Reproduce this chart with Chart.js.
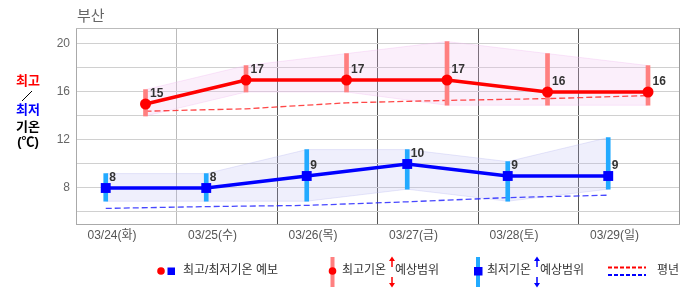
<!DOCTYPE html>
<html>
<head>
<meta charset="utf-8">
<script src="https://cdn.jsdelivr.net/npm/chart.js@4"></script>
<style>
  body { margin: 0; background: #fff; }
  canvas { display: block; }
</style>
</head>
<body>
<canvas id="myChart" width="686" height="295"></canvas>
<script>
// 부산 중기 기온 예보
var dates = ["03/24(화)", "03/25(수)", "03/26(목)", "03/27(금)", "03/28(토)", "03/29(일)"];
var highTemps = [15, 17, 17, 17, 16, 16];
var lowTemps = [8, 8, 9, 10, 9, 9];
var highRangeMin = [14, 16, 16, 14.9, 14.9, 14.9];
var highRangeMax = [16.2, 18.2, 19.2, 20.2, 19.2, 18.2];
var lowRangeMin = [6.9, 6.9, 6.9, 7.9, 6.9, 7.9];
var lowRangeMax = [9.2, 9.2, 11.2, 11.2, 10.2, 12.2];
var normalHigh = [14.4, 14.6, 15.1, 15.3, 15.45, 15.7];
var normalLow = [6.3, 6.45, 6.55, 6.85, 7.2, 7.4];
var yTicks = [6, 8, 10, 12, 14, 16, 18, 20];
var yLabels = [8, 12, 16, 20];

// hour of the day where the min / max temperature sits
var LOW_HOUR = 7.1;
var HIGH_HOUR = 16.6;

var FONT = "'Liberation Sans', 'Noto Sans CJK KR', sans-serif";
Chart.defaults.font.family = FONT;

function points(values, hour) {
  return values.map(function (v, i) { return { x: i + hour / 24, y: v }; });
}
function ranges(mins, maxs, hour) {
  return mins.map(function (v, i) { return { x: i + hour / 24, y: [v, maxs[i]] }; });
}

var extras = {
  id: "extras",
  afterDraw: function (chart) {
    var ctx = chart.ctx;
    var area = chart.chartArea;
    ctx.save();

    // frame top
    ctx.strokeStyle = "#bbb";
    ctx.lineWidth = 1;
    ctx.beginPath();
    ctx.moveTo(area.left, area.top + 0.5);
    ctx.lineTo(area.right, area.top + 0.5);
    ctx.stroke();

    // title
    ctx.fillStyle = "#666";
    ctx.font = "15px " + FONT;
    ctx.textBaseline = "middle";
    ctx.textAlign = "left";
    ctx.fillText("부산", 77, 17);

    // y axis title
    ctx.font = "bold 13px " + FONT;
    ctx.textAlign = "center";
    ctx.fillStyle = "#f00";
    ctx.fillText("최고", 28, 81);
    ctx.strokeStyle = "#000";
    ctx.beginPath();
    ctx.moveTo(22, 101);
    ctx.lineTo(32, 91);
    ctx.stroke();
    ctx.fillStyle = "#00f";
    ctx.fillText("최저", 28, 110);
    ctx.fillStyle = "#000";
    ctx.fillText("기온", 28, 127.5);
    ctx.fillText("(℃)", 28, 142);

    // legend
    var ly = 271;
    ctx.font = "12px " + FONT;
    ctx.textAlign = "left";
    ctx.fillStyle = "#f00";
    ctx.beginPath(); ctx.arc(161, ly, 3.8, 0, Math.PI * 2); ctx.fill();
    ctx.fillStyle = "#00f";
    ctx.fillRect(167.5, ly - 3.5, 7.5, 7.5);
    ctx.fillStyle = "#333";
    ctx.fillText("최고/최저기온 예보", 183, ly);

    ctx.fillStyle = "#ff8080";
    ctx.fillRect(330.5, 257, 4, 30);
    ctx.fillStyle = "#f00";
    ctx.beginPath(); ctx.arc(332.5, ly, 3.8, 0, Math.PI * 2); ctx.fill();
    ctx.fillStyle = "#333";
    ctx.fillText("최고기온", 342, ly);
    arrows(ctx, 392, "#f00");
    ctx.fillStyle = "#333";
    ctx.fillText("예상범위", 395, ly);

    ctx.fillStyle = "#22aaff";
    ctx.fillRect(476, 257, 4, 30);
    ctx.fillStyle = "#00f";
    ctx.fillRect(474, ly - 4, 8.5, 8.5);
    ctx.fillStyle = "#333";
    ctx.fillText("최저기온", 487, ly);
    arrows(ctx, 537, "#00f");
    ctx.fillStyle = "#333";
    ctx.fillText("예상범위", 540, ly);

    ctx.lineWidth = 2;
    ctx.setLineDash([4, 2]);
    ctx.strokeStyle = "#f00";
    ctx.beginPath(); ctx.moveTo(608, 267.5); ctx.lineTo(646, 267.5); ctx.stroke();
    ctx.strokeStyle = "#00f";
    ctx.beginPath(); ctx.moveTo(608, 275); ctx.lineTo(646, 275); ctx.stroke();
    ctx.setLineDash([]);
    ctx.fillStyle = "#333";
    ctx.fillText("평년", 657, ly);
    ctx.restore();
  },
  afterDatasetsDraw: function (chart) {
    var ctx = chart.ctx;
    ctx.save();
    ctx.font = "bold 12px " + FONT;
    ctx.fillStyle = "#333";
    ctx.textAlign = "left";
    ctx.textBaseline = "middle";
    chart.getDatasetMeta(0).data.forEach(function (el, i) {
      ctx.fillText(highTemps[i], el.x + 4.5, el.y - 10);
    });
    chart.getDatasetMeta(1).data.forEach(function (el, i) {
      ctx.fillText(lowTemps[i], el.x + 3.5, el.y - 10);
    });
    ctx.restore();
  }
};

function arrows(ctx, x, color) {
  ctx.save();
  ctx.strokeStyle = color;
  ctx.fillStyle = color;
  ctx.lineWidth = 1.5;
  ctx.beginPath();
  ctx.moveTo(x, 267); ctx.lineTo(x, 260);
  ctx.moveTo(x, 277); ctx.lineTo(x, 284);
  ctx.stroke();
  ctx.beginPath();
  ctx.moveTo(x - 3, 261); ctx.lineTo(x, 256.5); ctx.lineTo(x + 3, 261); ctx.closePath();
  ctx.moveTo(x - 3, 283); ctx.lineTo(x, 287.5); ctx.lineTo(x + 3, 283); ctx.closePath();
  ctx.fill();
  ctx.restore();
}

var ctx = document.getElementById("myChart").getContext("2d");
var myChart = new Chart(ctx, {
  type: "line",
  data: {
    datasets: [
      {
        // 0 최고기온
        data: points(highTemps, HIGH_HOUR),
        borderColor: "#f00",
        borderWidth: 3.5,
        pointRadius: 5.5,
        pointBackgroundColor: "#f00",
        pointBorderWidth: 0,
        order: 0,
      },
      {
        // 1 최저기온
        data: points(lowTemps, LOW_HOUR),
        borderColor: "#00f",
        borderWidth: 3.5,
        pointStyle: "rect",
        pointRadius: 7,
        pointBackgroundColor: "#00f",
        pointBorderWidth: 0,
        order: 0,
      },
      {
        type: "bar",
        data: ranges(highRangeMin, highRangeMax, HIGH_HOUR),
        backgroundColor: "#ff8080",
        barThickness: 4,
        grouped: false,
        order: 1,
      },
      {
        type: "bar",
        data: ranges(lowRangeMin, lowRangeMax, LOW_HOUR),
        backgroundColor: "#22aaff",
        barThickness: 4,
        grouped: false,
        order: 1,
      },
      {
        data: points(normalHigh, HIGH_HOUR),
        borderColor: "rgba(255, 40, 40, 0.85)",
        borderWidth: 1.3,
        borderDash: [6, 3],
        pointRadius: 0,
        order: 2,
      },
      {
        data: points(normalLow, LOW_HOUR),
        borderColor: "rgba(40, 40, 255, 0.85)",
        borderWidth: 1.3,
        borderDash: [6, 3],
        pointRadius: 0,
        order: 2,
      },
      {
        data: points(highRangeMax, HIGH_HOUR),
        borderColor: "rgba(240, 190, 240, 0.35)",
        borderWidth: 1,
        pointRadius: 0,
        fill: "+1",
        backgroundColor: "rgba(240, 190, 240, 0.25)",
        order: 3,
      },
      {
        data: points(highRangeMin, HIGH_HOUR),
        borderColor: "rgba(240, 190, 240, 0.35)",
        borderWidth: 1,
        pointRadius: 0,
        fill: false,
        order: 3,
      },
      {
        data: points(lowRangeMax, LOW_HOUR),
        borderColor: "rgba(180, 180, 240, 0.3)",
        borderWidth: 1,
        pointRadius: 0,
        fill: "+1",
        backgroundColor: "rgba(180, 180, 240, 0.22)",
        order: 3,
      },
      {
        data: points(lowRangeMin, LOW_HOUR),
        borderColor: "rgba(180, 180, 240, 0.3)",
        borderWidth: 1,
        pointRadius: 0,
        fill: false,
        order: 3,
      },
    ],
  },
  options: {
    responsive: false,
    animation: false,
    layout: { padding: { top: 28, right: 4, bottom: 51, left: 0 } },
    plugins: {
      legend: { display: false },
      tooltip: { enabled: false },
    },
    scales: {
      x: {
        type: "linear",
        min: 0,
        max: 6,
        offset: false,
        afterBuildTicks: function (scale) {
          scale.ticks = [0, 1, 2, 3, 4, 5, 6].map(function (v) { return { value: v }; });
        },
        afterFit: function (scale) { scale.height = 20; },
        ticks: {
          autoSkip: false,
          maxRotation: 0,
          labelOffset: 36,
          padding: 4,
          color: "#555",
          font: { size: 12 },
          callback: function (v) { return dates[v] || ""; },
        },
        grid: {
          offset: false,
          drawTicks: false,
          color: function (c) {
            var v = c.tick ? c.tick.value : 0;
            if (v === 0) return "#aaa";
            if (v === 1) return "#bbb";
            if (v === 6) return "#999";
            return "#555";
          },
        },
        border: { color: "#aaa" },
      },
      y: {
        min: 5,
        max: 21.333,
        afterBuildTicks: function (scale) {
          scale.ticks = yTicks.map(function (v) { return { value: v }; });
        },
        afterFit: function (scale) { scale.width = 76; },
        ticks: {
          padding: 6,
          color: "#666",
          font: { size: 12 },
          callback: function (v) { return yLabels.indexOf(v) >= 0 ? v : ""; },
        },
        grid: { drawTicks: false, color: "#d0d0d0" },
        border: { color: "#aaa" },
      },
    },
  },
  plugins: [extras],
});
</script>
</body>
</html>
